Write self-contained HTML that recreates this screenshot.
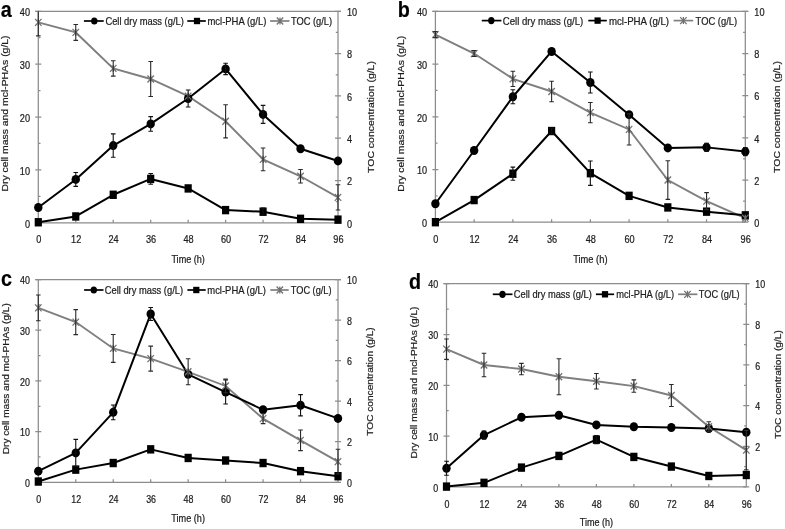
<!DOCTYPE html>
<html><head><meta charset="utf-8"><style>
html,body{margin:0;padding:0;background:#fff;}
svg{display:block;font-family:"Liberation Sans",sans-serif;will-change:transform;}
text{stroke:#222;stroke-width:0.22px;}
</style></head><body>
<svg width="785" height="529" viewBox="0 0 785 529">
<rect width="785" height="529" fill="#fff"/>
<g stroke="#8c8c8c" stroke-width="1.25" fill="none">
<path d="M35.30,11.30H341.00M38.30,11.30V222.80H338.00M338.00,11.30V222.80"/>
<path d="M35.30,222.80H41.30M38.30,196.36H40.50M35.30,169.93H41.30M38.30,143.49H40.50M35.30,117.05H41.30M38.30,90.61H40.50M35.30,64.18H41.30M38.30,37.74H40.50M35.30,11.30H41.30M335.00,222.80H341.00M335.80,201.65H338.00M335.00,180.50H341.00M335.80,159.35H338.00M335.00,138.20H341.00M335.80,117.05H338.00M335.00,95.90H341.00M335.80,74.75H338.00M335.00,53.60H341.00M335.80,32.45H338.00M335.00,11.30H341.00M75.76,222.80V219.80M113.22,222.80V219.80M150.69,222.80V219.80M188.15,222.80V219.80M225.61,222.80V219.80M263.07,222.80V219.80M300.54,222.80V219.80"/>
</g>
<text transform="translate(30.00,227.50) scale(0.88,1)" font-size="10.4" text-anchor="end" font-weight="normal" fill="#1a1a1a">0</text>
<text transform="translate(30.00,174.62) scale(0.88,1)" font-size="10.4" text-anchor="end" font-weight="normal" fill="#1a1a1a">10</text>
<text transform="translate(30.00,121.75) scale(0.88,1)" font-size="10.4" text-anchor="end" font-weight="normal" fill="#1a1a1a">20</text>
<text transform="translate(30.00,68.88) scale(0.88,1)" font-size="10.4" text-anchor="end" font-weight="normal" fill="#1a1a1a">30</text>
<text transform="translate(30.00,16.00) scale(0.88,1)" font-size="10.4" text-anchor="end" font-weight="normal" fill="#1a1a1a">40</text>
<text transform="translate(347.00,227.50) scale(0.88,1)" font-size="10.4" text-anchor="start" font-weight="normal" fill="#1a1a1a">0</text>
<text transform="translate(347.00,185.20) scale(0.88,1)" font-size="10.4" text-anchor="start" font-weight="normal" fill="#1a1a1a">2</text>
<text transform="translate(347.00,142.90) scale(0.88,1)" font-size="10.4" text-anchor="start" font-weight="normal" fill="#1a1a1a">4</text>
<text transform="translate(347.00,100.60) scale(0.88,1)" font-size="10.4" text-anchor="start" font-weight="normal" fill="#1a1a1a">6</text>
<text transform="translate(347.00,58.30) scale(0.88,1)" font-size="10.4" text-anchor="start" font-weight="normal" fill="#1a1a1a">8</text>
<text transform="translate(347.00,16.00) scale(0.88,1)" font-size="10.4" text-anchor="start" font-weight="normal" fill="#1a1a1a">10</text>
<text transform="translate(38.70,243.40) scale(0.88,1)" font-size="10.4" text-anchor="middle" font-weight="normal" fill="#1a1a1a">0</text>
<text transform="translate(76.16,243.40) scale(0.88,1)" font-size="10.4" text-anchor="middle" font-weight="normal" fill="#1a1a1a">12</text>
<text transform="translate(113.62,243.40) scale(0.88,1)" font-size="10.4" text-anchor="middle" font-weight="normal" fill="#1a1a1a">24</text>
<text transform="translate(151.09,243.40) scale(0.88,1)" font-size="10.4" text-anchor="middle" font-weight="normal" fill="#1a1a1a">36</text>
<text transform="translate(188.55,243.40) scale(0.88,1)" font-size="10.4" text-anchor="middle" font-weight="normal" fill="#1a1a1a">48</text>
<text transform="translate(226.01,243.40) scale(0.88,1)" font-size="10.4" text-anchor="middle" font-weight="normal" fill="#1a1a1a">60</text>
<text transform="translate(263.47,243.40) scale(0.88,1)" font-size="10.4" text-anchor="middle" font-weight="normal" fill="#1a1a1a">72</text>
<text transform="translate(300.94,243.40) scale(0.88,1)" font-size="10.4" text-anchor="middle" font-weight="normal" fill="#1a1a1a">84</text>
<text transform="translate(338.40,243.40) scale(0.88,1)" font-size="10.4" text-anchor="middle" font-weight="normal" fill="#1a1a1a">96</text>
<text x="188.15" y="263.10" font-size="10.4" text-anchor="middle" font-weight="normal" fill="#1a1a1a" textLength="33.50" lengthAdjust="spacingAndGlyphs">Time (h)</text>
<text transform="translate(7.80,113.50) scale(0.88,1) rotate(-90)" font-size="10.4" text-anchor="middle" fill="#1a1a1a" textLength="156.10" lengthAdjust="spacingAndGlyphs">Dry cell mass and mcl-PHAs (g/L)</text>
<text transform="translate(373.60,117.00) scale(0.88,1) rotate(-90)" font-size="10.4" text-anchor="middle" fill="#1a1a1a" textLength="111.80" lengthAdjust="spacingAndGlyphs">TOC concentration (g/L)</text>
<text transform="translate(0.80,17.30) scale(0.92,1)" font-size="21.5" font-weight="bold" fill="#000">a</text>
<path d="M83.90,21.00H103.70" stroke="#000" stroke-width="1.7"/>
<ellipse cx="94.30" cy="21.00" rx="3.2" ry="3.6" fill="#000"/>
<text x="105.40" y="25.10" font-size="10.4" text-anchor="start" font-weight="normal" fill="#1a1a1a" textLength="78.40" lengthAdjust="spacingAndGlyphs">Cell dry mass (g/L)</text>
<path d="M187.30,21.00H205.80" stroke="#000" stroke-width="1.7"/>
<rect x="193.90" y="17.80" width="6.2" height="6.4" fill="#000"/>
<text x="207.40" y="25.10" font-size="10.4" text-anchor="start" font-weight="normal" fill="#1a1a1a" textLength="59.00" lengthAdjust="spacingAndGlyphs">mcl-PHA (g/L)</text>
<path d="M270.10,21.00H289.50" stroke="#7f7f7f" stroke-width="1.7"/>
<path d="M276.78,17.50L283.22,24.50M276.78,24.50L283.22,17.50M280.00,17.50L280.00,24.50" stroke="#707070" stroke-width="1.25" fill="none"/>
<text x="290.90" y="25.10" font-size="10.4" text-anchor="start" font-weight="normal" fill="#1a1a1a" textLength="41.20" lengthAdjust="spacingAndGlyphs">TOC (g/L)</text>
<polyline points="38.30,22.30 75.76,32.45 113.22,68.41 150.69,78.98 188.15,96.11 225.61,121.28 263.07,159.35 300.54,176.27 338.00,197.42" stroke="#7f7f7f" stroke-width="1.9" fill="none"/>
<polyline points="38.30,222.27 75.76,216.46 113.22,194.78 150.69,178.91 188.15,188.43 225.61,210.11 263.07,211.70 300.54,218.83 338.00,219.63" stroke="#000" stroke-width="2.0" fill="none" stroke-linejoin="round"/>
<polyline points="38.30,207.47 75.76,179.44 113.22,145.60 150.69,123.92 188.15,98.54 225.61,68.93 263.07,114.41 300.54,148.78 338.00,160.94" stroke="#000" stroke-width="2.0" fill="none" stroke-linejoin="round"/>
<rect x="34.70" y="218.07" width="7.2" height="8.4" fill="#000"/>
<rect x="72.16" y="212.26" width="7.2" height="8.4" fill="#000"/>
<rect x="109.62" y="190.58" width="7.2" height="8.4" fill="#000"/>
<rect x="147.09" y="174.71" width="7.2" height="8.4" fill="#000"/>
<rect x="184.55" y="184.23" width="7.2" height="8.4" fill="#000"/>
<rect x="222.01" y="205.91" width="7.2" height="8.4" fill="#000"/>
<rect x="259.47" y="207.50" width="7.2" height="8.4" fill="#000"/>
<rect x="296.94" y="214.63" width="7.2" height="8.4" fill="#000"/>
<rect x="334.40" y="215.43" width="7.2" height="8.4" fill="#000"/>
<ellipse cx="38.30" cy="207.47" rx="4.2" ry="4.5" fill="#000"/>
<ellipse cx="75.76" cy="179.44" rx="4.2" ry="4.5" fill="#000"/>
<ellipse cx="113.22" cy="145.60" rx="4.2" ry="4.5" fill="#000"/>
<ellipse cx="150.69" cy="123.92" rx="4.2" ry="4.5" fill="#000"/>
<ellipse cx="188.15" cy="98.54" rx="4.2" ry="4.5" fill="#000"/>
<ellipse cx="225.61" cy="68.93" rx="4.2" ry="4.5" fill="#000"/>
<ellipse cx="263.07" cy="114.41" rx="4.2" ry="4.5" fill="#000"/>
<ellipse cx="300.54" cy="148.78" rx="4.2" ry="4.5" fill="#000"/>
<ellipse cx="338.00" cy="160.94" rx="4.2" ry="4.5" fill="#000"/>
<path d="M35.08,18.80L41.52,25.80M35.08,25.80L41.52,18.80M38.30,18.80L38.30,25.80" stroke="#707070" stroke-width="1.25" fill="none"/>
<path d="M72.54,28.95L78.98,35.95M72.54,35.95L78.98,28.95M75.76,28.95L75.76,35.95" stroke="#707070" stroke-width="1.25" fill="none"/>
<path d="M110.00,64.91L116.44,71.91M110.00,71.91L116.44,64.91M113.22,64.91L113.22,71.91" stroke="#707070" stroke-width="1.25" fill="none"/>
<path d="M147.47,75.48L153.91,82.48M147.47,82.48L153.91,75.48M150.69,75.48L150.69,82.48" stroke="#707070" stroke-width="1.25" fill="none"/>
<path d="M184.93,92.61L191.37,99.61M184.93,99.61L191.37,92.61M188.15,92.61L188.15,99.61" stroke="#707070" stroke-width="1.25" fill="none"/>
<path d="M222.39,117.78L228.83,124.78M222.39,124.78L228.83,117.78M225.61,117.78L225.61,124.78" stroke="#707070" stroke-width="1.25" fill="none"/>
<path d="M259.85,155.85L266.30,162.85M259.85,162.85L266.30,155.85M263.07,155.85L263.07,162.85" stroke="#707070" stroke-width="1.25" fill="none"/>
<path d="M297.32,172.77L303.76,179.77M297.32,179.77L303.76,172.77M300.54,172.77L300.54,179.77" stroke="#707070" stroke-width="1.25" fill="none"/>
<path d="M334.78,193.92L341.22,200.92M334.78,200.92L341.22,193.92M338.00,193.92L338.00,200.92" stroke="#707070" stroke-width="1.25" fill="none"/>
<path d="M75.76,172.54V186.34M73.46,186.34H78.06M73.46,172.54H78.06M113.22,133.90V157.30M110.92,157.30H115.52M110.92,133.90H115.52M150.69,116.62V131.22M148.39,131.22H152.99M148.39,116.62H152.99M188.15,90.04V107.04M185.85,107.04H190.45M185.85,90.04H190.45M225.61,63.23V74.63M223.31,74.63H227.91M223.31,63.23H227.91M263.07,105.41V123.41M260.77,123.41H265.38M260.77,105.41H265.38M150.69,173.51V184.31M148.39,184.31H152.99M148.39,173.51H152.99M263.07,208.00V215.40M260.77,215.40H265.38M260.77,208.00H265.38" stroke="#111" stroke-width="1.1" fill="none"/>
<path d="M38.30,11.30V35.90M36.00,35.90H40.60M75.76,24.55V40.35M73.46,40.35H78.06M73.46,24.55H78.06M113.22,60.71V76.11M110.92,76.11H115.52M110.92,60.71H115.52M150.69,61.48V96.48M148.39,96.48H152.99M148.39,61.48H152.99M225.61,104.68V137.88M223.31,137.88H227.91M223.31,104.68H227.91M263.07,147.95V170.75M260.77,170.75H265.38M260.77,147.95H265.38M300.54,169.57V182.97M298.24,182.97H302.84M298.24,169.57H302.84M338.00,184.82V210.02M335.70,210.02H340.30M335.70,184.82H340.30" stroke="#2a2a2a" stroke-width="1.1" fill="none"/>
<g stroke="#8c8c8c" stroke-width="1.25" fill="none">
<path d="M432.40,11.40H748.30M435.40,11.40V222.20H745.30M745.30,11.40V222.20"/>
<path d="M432.40,222.20H438.40M435.40,195.85H437.60M432.40,169.50H438.40M435.40,143.15H437.60M432.40,116.80H438.40M435.40,90.45H437.60M432.40,64.10H438.40M435.40,37.75H437.60M432.40,11.40H438.40M742.30,222.20H748.30M743.10,201.12H745.30M742.30,180.04H748.30M743.10,158.96H745.30M742.30,137.88H748.30M743.10,116.80H745.30M742.30,95.72H748.30M743.10,74.64H745.30M742.30,53.56H748.30M743.10,32.48H745.30M742.30,11.40H748.30M474.14,222.20V219.20M512.88,222.20V219.20M551.61,222.20V219.20M590.35,222.20V219.20M629.09,222.20V219.20M667.82,222.20V219.20M706.56,222.20V219.20"/>
</g>
<text transform="translate(427.10,226.90) scale(0.88,1)" font-size="10.4" text-anchor="end" font-weight="normal" fill="#1a1a1a">0</text>
<text transform="translate(427.10,174.20) scale(0.88,1)" font-size="10.4" text-anchor="end" font-weight="normal" fill="#1a1a1a">10</text>
<text transform="translate(427.10,121.50) scale(0.88,1)" font-size="10.4" text-anchor="end" font-weight="normal" fill="#1a1a1a">20</text>
<text transform="translate(427.10,68.80) scale(0.88,1)" font-size="10.4" text-anchor="end" font-weight="normal" fill="#1a1a1a">30</text>
<text transform="translate(427.10,16.10) scale(0.88,1)" font-size="10.4" text-anchor="end" font-weight="normal" fill="#1a1a1a">40</text>
<text transform="translate(754.30,226.90) scale(0.88,1)" font-size="10.4" text-anchor="start" font-weight="normal" fill="#1a1a1a">0</text>
<text transform="translate(754.30,184.74) scale(0.88,1)" font-size="10.4" text-anchor="start" font-weight="normal" fill="#1a1a1a">2</text>
<text transform="translate(754.30,142.58) scale(0.88,1)" font-size="10.4" text-anchor="start" font-weight="normal" fill="#1a1a1a">4</text>
<text transform="translate(754.30,100.42) scale(0.88,1)" font-size="10.4" text-anchor="start" font-weight="normal" fill="#1a1a1a">6</text>
<text transform="translate(754.30,58.26) scale(0.88,1)" font-size="10.4" text-anchor="start" font-weight="normal" fill="#1a1a1a">8</text>
<text transform="translate(754.30,16.10) scale(0.88,1)" font-size="10.4" text-anchor="start" font-weight="normal" fill="#1a1a1a">10</text>
<text transform="translate(435.80,242.80) scale(0.88,1)" font-size="10.4" text-anchor="middle" font-weight="normal" fill="#1a1a1a">0</text>
<text transform="translate(474.54,242.80) scale(0.88,1)" font-size="10.4" text-anchor="middle" font-weight="normal" fill="#1a1a1a">12</text>
<text transform="translate(513.27,242.80) scale(0.88,1)" font-size="10.4" text-anchor="middle" font-weight="normal" fill="#1a1a1a">24</text>
<text transform="translate(552.01,242.80) scale(0.88,1)" font-size="10.4" text-anchor="middle" font-weight="normal" fill="#1a1a1a">36</text>
<text transform="translate(590.75,242.80) scale(0.88,1)" font-size="10.4" text-anchor="middle" font-weight="normal" fill="#1a1a1a">48</text>
<text transform="translate(629.49,242.80) scale(0.88,1)" font-size="10.4" text-anchor="middle" font-weight="normal" fill="#1a1a1a">60</text>
<text transform="translate(668.22,242.80) scale(0.88,1)" font-size="10.4" text-anchor="middle" font-weight="normal" fill="#1a1a1a">72</text>
<text transform="translate(706.96,242.80) scale(0.88,1)" font-size="10.4" text-anchor="middle" font-weight="normal" fill="#1a1a1a">84</text>
<text transform="translate(745.70,242.80) scale(0.88,1)" font-size="10.4" text-anchor="middle" font-weight="normal" fill="#1a1a1a">96</text>
<text x="590.35" y="262.90" font-size="10.4" text-anchor="middle" font-weight="normal" fill="#1a1a1a" textLength="34.30" lengthAdjust="spacingAndGlyphs">Time (h)</text>
<text transform="translate(404.30,113.80) scale(0.88,1) rotate(-90)" font-size="10.4" text-anchor="middle" fill="#1a1a1a" textLength="156.10" lengthAdjust="spacingAndGlyphs">Dry cell mass and mcl-PHAs (g/L)</text>
<text transform="translate(780.40,117.00) scale(0.88,1) rotate(-90)" font-size="10.4" text-anchor="middle" fill="#1a1a1a" textLength="111.80" lengthAdjust="spacingAndGlyphs">TOC concentration (g/L)</text>
<text transform="translate(397.80,17.30) scale(0.92,1)" font-size="21.5" font-weight="bold" fill="#000">b</text>
<path d="M481.80,20.60H501.40" stroke="#000" stroke-width="1.7"/>
<ellipse cx="491.30" cy="20.60" rx="3.2" ry="3.6" fill="#000"/>
<text x="502.80" y="24.70" font-size="10.4" text-anchor="start" font-weight="normal" fill="#1a1a1a" textLength="80.50" lengthAdjust="spacingAndGlyphs">Cell dry mass (g/L)</text>
<path d="M588.30,20.60H606.80" stroke="#000" stroke-width="1.7"/>
<rect x="594.50" y="17.40" width="6.2" height="6.4" fill="#000"/>
<text x="608.90" y="24.70" font-size="10.4" text-anchor="start" font-weight="normal" fill="#1a1a1a" textLength="60.20" lengthAdjust="spacingAndGlyphs">mcl-PHA (g/L)</text>
<path d="M673.60,20.60H693.20" stroke="#7f7f7f" stroke-width="1.7"/>
<path d="M680.18,17.10L686.62,24.10M680.18,24.10L686.62,17.10M683.40,17.10L683.40,24.10" stroke="#707070" stroke-width="1.25" fill="none"/>
<text x="695.60" y="24.70" font-size="10.4" text-anchor="start" font-weight="normal" fill="#1a1a1a" textLength="41.50" lengthAdjust="spacingAndGlyphs">TOC (g/L)</text>
<polyline points="435.40,34.59 474.14,53.56 512.88,78.86 551.61,91.50 590.35,112.58 629.09,129.45 667.82,180.04 706.56,201.12 745.30,218.19" stroke="#7f7f7f" stroke-width="1.9" fill="none"/>
<polyline points="435.40,222.20 474.14,200.07 512.88,173.72 551.61,131.03 590.35,173.19 629.09,195.85 667.82,207.44 706.56,211.66 745.30,215.35" stroke="#000" stroke-width="2.0" fill="none" stroke-linejoin="round"/>
<polyline points="435.40,203.75 474.14,150.53 512.88,96.77 551.61,51.45 590.35,82.54 629.09,114.69 667.82,147.89 706.56,147.37 745.30,151.58" stroke="#000" stroke-width="2.0" fill="none" stroke-linejoin="round"/>
<rect x="431.80" y="218.00" width="7.2" height="8.4" fill="#000"/>
<rect x="470.54" y="195.87" width="7.2" height="8.4" fill="#000"/>
<rect x="509.27" y="169.52" width="7.2" height="8.4" fill="#000"/>
<rect x="548.01" y="126.83" width="7.2" height="8.4" fill="#000"/>
<rect x="586.75" y="168.99" width="7.2" height="8.4" fill="#000"/>
<rect x="625.49" y="191.65" width="7.2" height="8.4" fill="#000"/>
<rect x="664.22" y="203.24" width="7.2" height="8.4" fill="#000"/>
<rect x="702.96" y="207.46" width="7.2" height="8.4" fill="#000"/>
<rect x="741.70" y="211.15" width="7.2" height="8.4" fill="#000"/>
<ellipse cx="435.40" cy="203.75" rx="4.2" ry="4.5" fill="#000"/>
<ellipse cx="474.14" cy="150.53" rx="4.2" ry="4.5" fill="#000"/>
<ellipse cx="512.88" cy="96.77" rx="4.2" ry="4.5" fill="#000"/>
<ellipse cx="551.61" cy="51.45" rx="4.2" ry="4.5" fill="#000"/>
<ellipse cx="590.35" cy="82.54" rx="4.2" ry="4.5" fill="#000"/>
<ellipse cx="629.09" cy="114.69" rx="4.2" ry="4.5" fill="#000"/>
<ellipse cx="667.82" cy="147.89" rx="4.2" ry="4.5" fill="#000"/>
<ellipse cx="706.56" cy="147.37" rx="4.2" ry="4.5" fill="#000"/>
<ellipse cx="745.30" cy="151.58" rx="4.2" ry="4.5" fill="#000"/>
<path d="M432.18,31.09L438.62,38.09M432.18,38.09L438.62,31.09M435.40,31.09L435.40,38.09" stroke="#707070" stroke-width="1.25" fill="none"/>
<path d="M470.92,50.06L477.36,57.06M470.92,57.06L477.36,50.06M474.14,50.06L474.14,57.06" stroke="#707070" stroke-width="1.25" fill="none"/>
<path d="M509.65,75.36L516.10,82.36M509.65,82.36L516.10,75.36M512.88,75.36L512.88,82.36" stroke="#707070" stroke-width="1.25" fill="none"/>
<path d="M548.39,88.00L554.83,95.00M548.39,95.00L554.83,88.00M551.61,88.00L551.61,95.00" stroke="#707070" stroke-width="1.25" fill="none"/>
<path d="M587.13,109.08L593.57,116.08M587.13,116.08L593.57,109.08M590.35,109.08L590.35,116.08" stroke="#707070" stroke-width="1.25" fill="none"/>
<path d="M625.87,125.95L632.31,132.95M625.87,132.95L632.31,125.95M629.09,125.95L629.09,132.95" stroke="#707070" stroke-width="1.25" fill="none"/>
<path d="M664.60,176.54L671.04,183.54M664.60,183.54L671.04,176.54M667.82,176.54L667.82,183.54" stroke="#707070" stroke-width="1.25" fill="none"/>
<path d="M703.34,197.62L709.78,204.62M703.34,204.62L709.78,197.62M706.56,197.62L706.56,204.62" stroke="#707070" stroke-width="1.25" fill="none"/>
<path d="M742.08,214.69L748.52,221.69M742.08,221.69L748.52,214.69M745.30,214.69L745.30,221.69" stroke="#707070" stroke-width="1.25" fill="none"/>
<path d="M512.88,89.77V103.77M510.57,103.77H515.17M510.57,89.77H515.17M590.35,72.04V93.04M588.05,93.04H592.65M588.05,72.04H592.65M706.56,143.37V151.37M704.26,151.37H708.86M704.26,143.37H708.86M745.30,147.58V155.58M743.00,155.58H747.60M743.00,147.58H747.60M512.88,167.12V180.32M510.57,180.32H515.17M510.57,167.12H515.17M551.61,128.03V134.03M549.31,134.03H553.91M549.31,128.03H553.91M590.35,160.99V185.39M588.05,185.39H592.65M588.05,160.99H592.65" stroke="#111" stroke-width="1.1" fill="none"/>
<path d="M435.40,31.59V37.59M433.10,37.59H437.70M433.10,31.59H437.70M474.14,50.56V56.56M471.84,56.56H476.44M471.84,50.56H476.44M512.88,71.26V86.46M510.57,86.46H515.17M510.57,71.26H515.17M551.61,81.30V101.70M549.31,101.70H553.91M549.31,81.30H553.91M590.35,102.48V122.68M588.05,122.68H592.65M588.05,102.48H592.65M629.09,113.85V145.05M626.79,145.05H631.39M626.79,113.85H631.39M667.82,160.74V199.34M665.52,199.34H670.12M665.52,160.74H670.12M706.56,192.62V209.62M704.26,209.62H708.86M704.26,192.62H708.86" stroke="#2a2a2a" stroke-width="1.1" fill="none"/>
<g stroke="#8c8c8c" stroke-width="1.25" fill="none">
<path d="M35.30,279.50H341.00M38.30,279.50V482.30H338.00M338.00,279.50V482.30"/>
<path d="M35.30,482.30H41.30M38.30,456.95H40.50M35.30,431.60H41.30M38.30,406.25H40.50M35.30,380.90H41.30M38.30,355.55H40.50M35.30,330.20H41.30M38.30,304.85H40.50M35.30,279.50H41.30M335.00,482.30H341.00M335.80,462.02H338.00M335.00,441.74H341.00M335.80,421.46H338.00M335.00,401.18H341.00M335.80,380.90H338.00M335.00,360.62H341.00M335.80,340.34H338.00M335.00,320.06H341.00M335.80,299.78H338.00M335.00,279.50H341.00M75.76,482.30V479.30M113.22,482.30V479.30M150.69,482.30V479.30M188.15,482.30V479.30M225.61,482.30V479.30M263.07,482.30V479.30M300.54,482.30V479.30"/>
</g>
<text transform="translate(30.00,487.00) scale(0.88,1)" font-size="10.1" text-anchor="end" font-weight="normal" fill="#1a1a1a">0</text>
<text transform="translate(30.00,436.30) scale(0.88,1)" font-size="10.1" text-anchor="end" font-weight="normal" fill="#1a1a1a">10</text>
<text transform="translate(30.00,385.60) scale(0.88,1)" font-size="10.1" text-anchor="end" font-weight="normal" fill="#1a1a1a">20</text>
<text transform="translate(30.00,334.90) scale(0.88,1)" font-size="10.1" text-anchor="end" font-weight="normal" fill="#1a1a1a">30</text>
<text transform="translate(30.00,284.20) scale(0.88,1)" font-size="10.1" text-anchor="end" font-weight="normal" fill="#1a1a1a">40</text>
<text transform="translate(347.00,487.00) scale(0.88,1)" font-size="10.1" text-anchor="start" font-weight="normal" fill="#1a1a1a">0</text>
<text transform="translate(347.00,446.44) scale(0.88,1)" font-size="10.1" text-anchor="start" font-weight="normal" fill="#1a1a1a">2</text>
<text transform="translate(347.00,405.88) scale(0.88,1)" font-size="10.1" text-anchor="start" font-weight="normal" fill="#1a1a1a">4</text>
<text transform="translate(347.00,365.32) scale(0.88,1)" font-size="10.1" text-anchor="start" font-weight="normal" fill="#1a1a1a">6</text>
<text transform="translate(347.00,324.76) scale(0.88,1)" font-size="10.1" text-anchor="start" font-weight="normal" fill="#1a1a1a">8</text>
<text transform="translate(347.00,284.20) scale(0.88,1)" font-size="10.1" text-anchor="start" font-weight="normal" fill="#1a1a1a">10</text>
<text transform="translate(38.70,502.90) scale(0.88,1)" font-size="10.1" text-anchor="middle" font-weight="normal" fill="#1a1a1a">0</text>
<text transform="translate(76.16,502.90) scale(0.88,1)" font-size="10.1" text-anchor="middle" font-weight="normal" fill="#1a1a1a">12</text>
<text transform="translate(113.62,502.90) scale(0.88,1)" font-size="10.1" text-anchor="middle" font-weight="normal" fill="#1a1a1a">24</text>
<text transform="translate(151.09,502.90) scale(0.88,1)" font-size="10.1" text-anchor="middle" font-weight="normal" fill="#1a1a1a">36</text>
<text transform="translate(188.55,502.90) scale(0.88,1)" font-size="10.1" text-anchor="middle" font-weight="normal" fill="#1a1a1a">48</text>
<text transform="translate(226.01,502.90) scale(0.88,1)" font-size="10.1" text-anchor="middle" font-weight="normal" fill="#1a1a1a">60</text>
<text transform="translate(263.47,502.90) scale(0.88,1)" font-size="10.1" text-anchor="middle" font-weight="normal" fill="#1a1a1a">72</text>
<text transform="translate(300.94,502.90) scale(0.88,1)" font-size="10.1" text-anchor="middle" font-weight="normal" fill="#1a1a1a">84</text>
<text transform="translate(338.40,502.90) scale(0.88,1)" font-size="10.1" text-anchor="middle" font-weight="normal" fill="#1a1a1a">96</text>
<text x="188.15" y="521.70" font-size="10.1" text-anchor="middle" font-weight="normal" fill="#1a1a1a" textLength="33.60" lengthAdjust="spacingAndGlyphs">Time (h)</text>
<text transform="translate(8.60,378.70) scale(0.88,1) rotate(-90)" font-size="10.1" text-anchor="middle" fill="#1a1a1a" textLength="151.00" lengthAdjust="spacingAndGlyphs">Dry cell mass and mcl-PHAs (g/L)</text>
<text transform="translate(373.40,381.50) scale(0.88,1) rotate(-90)" font-size="10.1" text-anchor="middle" fill="#1a1a1a" textLength="108.40" lengthAdjust="spacingAndGlyphs">TOC concentration (g/L)</text>
<text transform="translate(0.90,286.00) scale(0.92,1)" font-size="21.5" font-weight="bold" fill="#000">c</text>
<path d="M84.10,290.00H103.50" stroke="#000" stroke-width="1.7"/>
<ellipse cx="93.80" cy="290.00" rx="3.2" ry="3.6" fill="#000"/>
<text x="104.70" y="294.10" font-size="10.1" text-anchor="start" font-weight="normal" fill="#1a1a1a" textLength="78.40" lengthAdjust="spacingAndGlyphs">Cell dry mass (g/L)</text>
<path d="M187.40,290.00H205.70" stroke="#000" stroke-width="1.7"/>
<rect x="193.20" y="286.80" width="6.2" height="6.4" fill="#000"/>
<text x="207.30" y="294.10" font-size="10.1" text-anchor="start" font-weight="normal" fill="#1a1a1a" textLength="58.70" lengthAdjust="spacingAndGlyphs">mcl-PHA (g/L)</text>
<path d="M270.30,290.00H288.70" stroke="#7f7f7f" stroke-width="1.7"/>
<path d="M276.58,286.50L283.02,293.50M276.58,293.50L283.02,286.50M279.80,286.50L279.80,293.50" stroke="#707070" stroke-width="1.25" fill="none"/>
<text x="290.80" y="294.10" font-size="10.1" text-anchor="start" font-weight="normal" fill="#1a1a1a" textLength="40.70" lengthAdjust="spacingAndGlyphs">TOC (g/L)</text>
<polyline points="38.30,307.89 75.76,322.09 113.22,348.45 150.69,358.59 188.15,371.77 225.61,385.97 263.07,418.62 300.54,440.32 338.00,461.61" stroke="#7f7f7f" stroke-width="1.9" fill="none"/>
<polyline points="38.30,481.54 75.76,469.62 113.22,463.03 150.69,449.35 188.15,457.96 225.61,460.50 263.07,463.03 300.54,471.15 338.00,476.22" stroke="#000" stroke-width="2.0" fill="none" stroke-linejoin="round"/>
<polyline points="38.30,471.15 75.76,452.89 113.22,412.33 150.69,313.98 188.15,374.31 225.61,392.05 263.07,409.80 300.54,405.24 338.00,418.42" stroke="#000" stroke-width="2.0" fill="none" stroke-linejoin="round"/>
<rect x="34.70" y="477.34" width="7.2" height="8.4" fill="#000"/>
<rect x="72.16" y="465.43" width="7.2" height="8.4" fill="#000"/>
<rect x="109.62" y="458.83" width="7.2" height="8.4" fill="#000"/>
<rect x="147.09" y="445.15" width="7.2" height="8.4" fill="#000"/>
<rect x="184.55" y="453.76" width="7.2" height="8.4" fill="#000"/>
<rect x="222.01" y="456.30" width="7.2" height="8.4" fill="#000"/>
<rect x="259.47" y="458.83" width="7.2" height="8.4" fill="#000"/>
<rect x="296.94" y="466.95" width="7.2" height="8.4" fill="#000"/>
<rect x="334.40" y="472.02" width="7.2" height="8.4" fill="#000"/>
<ellipse cx="38.30" cy="471.15" rx="4.2" ry="4.5" fill="#000"/>
<ellipse cx="75.76" cy="452.89" rx="4.2" ry="4.5" fill="#000"/>
<ellipse cx="113.22" cy="412.33" rx="4.2" ry="4.5" fill="#000"/>
<ellipse cx="150.69" cy="313.98" rx="4.2" ry="4.5" fill="#000"/>
<ellipse cx="188.15" cy="374.31" rx="4.2" ry="4.5" fill="#000"/>
<ellipse cx="225.61" cy="392.05" rx="4.2" ry="4.5" fill="#000"/>
<ellipse cx="263.07" cy="409.80" rx="4.2" ry="4.5" fill="#000"/>
<ellipse cx="300.54" cy="405.24" rx="4.2" ry="4.5" fill="#000"/>
<ellipse cx="338.00" cy="418.42" rx="4.2" ry="4.5" fill="#000"/>
<path d="M35.08,304.39L41.52,311.39M35.08,311.39L41.52,304.39M38.30,304.39L38.30,311.39" stroke="#707070" stroke-width="1.25" fill="none"/>
<path d="M72.54,318.59L78.98,325.59M72.54,325.59L78.98,318.59M75.76,318.59L75.76,325.59" stroke="#707070" stroke-width="1.25" fill="none"/>
<path d="M110.00,344.95L116.44,351.95M110.00,351.95L116.44,344.95M113.22,344.95L113.22,351.95" stroke="#707070" stroke-width="1.25" fill="none"/>
<path d="M147.47,355.09L153.91,362.09M147.47,362.09L153.91,355.09M150.69,355.09L150.69,362.09" stroke="#707070" stroke-width="1.25" fill="none"/>
<path d="M184.93,368.27L191.37,375.27M184.93,375.27L191.37,368.27M188.15,368.27L188.15,375.27" stroke="#707070" stroke-width="1.25" fill="none"/>
<path d="M222.39,382.47L228.83,389.47M222.39,389.47L228.83,382.47M225.61,382.47L225.61,389.47" stroke="#707070" stroke-width="1.25" fill="none"/>
<path d="M259.85,415.12L266.30,422.12M259.85,422.12L266.30,415.12M263.07,415.12L263.07,422.12" stroke="#707070" stroke-width="1.25" fill="none"/>
<path d="M297.32,436.82L303.76,443.82M297.32,443.82L303.76,436.82M300.54,436.82L300.54,443.82" stroke="#707070" stroke-width="1.25" fill="none"/>
<path d="M334.78,458.11L341.22,465.11M334.78,465.11L341.22,458.11M338.00,458.11L338.00,465.11" stroke="#707070" stroke-width="1.25" fill="none"/>
<path d="M75.76,439.39V466.39M73.46,466.39H78.06M73.46,439.39H78.06M113.22,404.93V419.73M110.92,419.73H115.52M110.92,404.93H115.52M150.69,307.48V320.48M148.39,320.48H152.99M148.39,307.48H152.99M225.61,380.05V404.05M223.31,404.05H227.91M223.31,380.05H227.91M300.54,394.64V415.84M298.24,415.84H302.84M298.24,394.64H302.84" stroke="#111" stroke-width="1.1" fill="none"/>
<path d="M38.30,294.99V320.79M36.00,320.79H40.60M36.00,294.99H40.60M75.76,309.59V334.59M73.46,334.59H78.06M73.46,309.59H78.06M113.22,334.55V362.35M110.92,362.35H115.52M110.92,334.55H115.52M150.69,346.09V371.09M148.39,371.09H152.99M148.39,346.09H152.99M188.15,358.77V384.77M185.85,384.77H190.45M185.85,358.77H190.45M225.61,379.17V392.77M223.31,392.77H227.91M223.31,379.17H227.91M263.07,413.62V423.62M260.77,423.62H265.38M260.77,413.62H265.38M300.54,430.02V450.62M298.24,450.62H302.84M298.24,430.02H302.84M338.00,449.21V474.01M335.70,474.01H340.30M335.70,449.21H340.30" stroke="#2a2a2a" stroke-width="1.1" fill="none"/>
<g stroke="#8c8c8c" stroke-width="1.25" fill="none">
<path d="M443.50,283.70H749.30M446.50,283.70V486.90H746.30M746.30,283.70V486.90"/>
<path d="M443.50,486.90H449.50M446.50,461.50H448.70M443.50,436.10H449.50M446.50,410.70H448.70M443.50,385.30H449.50M446.50,359.90H448.70M443.50,334.50H449.50M446.50,309.10H448.70M443.50,283.70H449.50M743.30,486.90H749.30M744.10,466.58H746.30M743.30,446.26H749.30M744.10,425.94H746.30M743.30,405.62H749.30M744.10,385.30H746.30M743.30,364.98H749.30M744.10,344.66H746.30M743.30,324.34H749.30M744.10,304.02H746.30M743.30,283.70H749.30M483.98,486.90V483.90M521.45,486.90V483.90M558.92,486.90V483.90M596.40,486.90V483.90M633.88,486.90V483.90M671.35,486.90V483.90M708.82,486.90V483.90"/>
</g>
<text transform="translate(438.20,491.60) scale(0.88,1)" font-size="10.1" text-anchor="end" font-weight="normal" fill="#1a1a1a">0</text>
<text transform="translate(438.20,440.80) scale(0.88,1)" font-size="10.1" text-anchor="end" font-weight="normal" fill="#1a1a1a">10</text>
<text transform="translate(438.20,390.00) scale(0.88,1)" font-size="10.1" text-anchor="end" font-weight="normal" fill="#1a1a1a">20</text>
<text transform="translate(438.20,339.20) scale(0.88,1)" font-size="10.1" text-anchor="end" font-weight="normal" fill="#1a1a1a">30</text>
<text transform="translate(438.20,288.40) scale(0.88,1)" font-size="10.1" text-anchor="end" font-weight="normal" fill="#1a1a1a">40</text>
<text transform="translate(755.30,491.60) scale(0.88,1)" font-size="10.1" text-anchor="start" font-weight="normal" fill="#1a1a1a">0</text>
<text transform="translate(755.30,450.96) scale(0.88,1)" font-size="10.1" text-anchor="start" font-weight="normal" fill="#1a1a1a">2</text>
<text transform="translate(755.30,410.32) scale(0.88,1)" font-size="10.1" text-anchor="start" font-weight="normal" fill="#1a1a1a">4</text>
<text transform="translate(755.30,369.68) scale(0.88,1)" font-size="10.1" text-anchor="start" font-weight="normal" fill="#1a1a1a">6</text>
<text transform="translate(755.30,329.04) scale(0.88,1)" font-size="10.1" text-anchor="start" font-weight="normal" fill="#1a1a1a">8</text>
<text transform="translate(755.30,288.40) scale(0.88,1)" font-size="10.1" text-anchor="start" font-weight="normal" fill="#1a1a1a">10</text>
<text transform="translate(446.90,507.50) scale(0.88,1)" font-size="10.1" text-anchor="middle" font-weight="normal" fill="#1a1a1a">0</text>
<text transform="translate(484.38,507.50) scale(0.88,1)" font-size="10.1" text-anchor="middle" font-weight="normal" fill="#1a1a1a">12</text>
<text transform="translate(521.85,507.50) scale(0.88,1)" font-size="10.1" text-anchor="middle" font-weight="normal" fill="#1a1a1a">24</text>
<text transform="translate(559.32,507.50) scale(0.88,1)" font-size="10.1" text-anchor="middle" font-weight="normal" fill="#1a1a1a">36</text>
<text transform="translate(596.80,507.50) scale(0.88,1)" font-size="10.1" text-anchor="middle" font-weight="normal" fill="#1a1a1a">48</text>
<text transform="translate(634.27,507.50) scale(0.88,1)" font-size="10.1" text-anchor="middle" font-weight="normal" fill="#1a1a1a">60</text>
<text transform="translate(671.75,507.50) scale(0.88,1)" font-size="10.1" text-anchor="middle" font-weight="normal" fill="#1a1a1a">72</text>
<text transform="translate(709.22,507.50) scale(0.88,1)" font-size="10.1" text-anchor="middle" font-weight="normal" fill="#1a1a1a">84</text>
<text transform="translate(746.70,507.50) scale(0.88,1)" font-size="10.1" text-anchor="middle" font-weight="normal" fill="#1a1a1a">96</text>
<text x="596.40" y="525.90" font-size="10.1" text-anchor="middle" font-weight="normal" fill="#1a1a1a" textLength="33.40" lengthAdjust="spacingAndGlyphs">Time (h)</text>
<text transform="translate(416.60,382.50) scale(0.88,1) rotate(-90)" font-size="10.1" text-anchor="middle" fill="#1a1a1a" textLength="151.80" lengthAdjust="spacingAndGlyphs">Dry cell mass and mcl-PHAs (g/L)</text>
<text transform="translate(780.60,384.50) scale(0.88,1) rotate(-90)" font-size="10.1" text-anchor="middle" fill="#1a1a1a" textLength="108.60" lengthAdjust="spacingAndGlyphs">TOC concentration (g/L)</text>
<text transform="translate(409.00,288.50) scale(0.92,1)" font-size="21.5" font-weight="bold" fill="#000">d</text>
<path d="M492.80,294.30H512.50" stroke="#000" stroke-width="1.7"/>
<ellipse cx="502.50" cy="294.30" rx="3.2" ry="3.6" fill="#000"/>
<text x="513.80" y="298.40" font-size="10.1" text-anchor="start" font-weight="normal" fill="#1a1a1a" textLength="78.10" lengthAdjust="spacingAndGlyphs">Cell dry mass (g/L)</text>
<path d="M595.90,294.30H614.10" stroke="#000" stroke-width="1.7"/>
<rect x="601.90" y="291.10" width="6.2" height="6.4" fill="#000"/>
<text x="616.20" y="298.40" font-size="10.1" text-anchor="start" font-weight="normal" fill="#1a1a1a" textLength="57.80" lengthAdjust="spacingAndGlyphs">mcl-PHA (g/L)</text>
<path d="M678.10,294.30H697.40" stroke="#7f7f7f" stroke-width="1.7"/>
<path d="M684.28,290.80L690.72,297.80M684.28,297.80L690.72,290.80M687.50,290.80L687.50,297.80" stroke="#707070" stroke-width="1.25" fill="none"/>
<text x="698.80" y="298.40" font-size="10.1" text-anchor="start" font-weight="normal" fill="#1a1a1a" textLength="40.90" lengthAdjust="spacingAndGlyphs">TOC (g/L)</text>
<polyline points="446.50,349.13 483.98,364.98 521.45,369.04 558.92,376.77 596.40,381.24 633.88,386.11 671.35,395.46 708.82,426.75 746.30,450.12" stroke="#7f7f7f" stroke-width="1.9" fill="none"/>
<polyline points="446.50,486.60 483.98,482.84 521.45,467.60 558.92,455.91 596.40,439.66 633.88,456.93 671.35,466.58 708.82,475.98 746.30,474.96" stroke="#000" stroke-width="2.0" fill="none" stroke-linejoin="round"/>
<polyline points="446.50,468.31 483.98,435.08 521.45,417.30 558.92,415.27 596.40,424.92 633.88,426.70 671.35,427.46 708.82,428.48 746.30,432.29" stroke="#000" stroke-width="2.0" fill="none" stroke-linejoin="round"/>
<rect x="442.90" y="482.40" width="7.2" height="8.4" fill="#000"/>
<rect x="480.38" y="478.64" width="7.2" height="8.4" fill="#000"/>
<rect x="517.85" y="463.40" width="7.2" height="8.4" fill="#000"/>
<rect x="555.32" y="451.71" width="7.2" height="8.4" fill="#000"/>
<rect x="592.80" y="435.46" width="7.2" height="8.4" fill="#000"/>
<rect x="630.27" y="452.73" width="7.2" height="8.4" fill="#000"/>
<rect x="667.75" y="462.38" width="7.2" height="8.4" fill="#000"/>
<rect x="705.22" y="471.78" width="7.2" height="8.4" fill="#000"/>
<rect x="742.70" y="470.76" width="7.2" height="8.4" fill="#000"/>
<ellipse cx="446.50" cy="468.31" rx="4.2" ry="4.5" fill="#000"/>
<ellipse cx="483.98" cy="435.08" rx="4.2" ry="4.5" fill="#000"/>
<ellipse cx="521.45" cy="417.30" rx="4.2" ry="4.5" fill="#000"/>
<ellipse cx="558.92" cy="415.27" rx="4.2" ry="4.5" fill="#000"/>
<ellipse cx="596.40" cy="424.92" rx="4.2" ry="4.5" fill="#000"/>
<ellipse cx="633.88" cy="426.70" rx="4.2" ry="4.5" fill="#000"/>
<ellipse cx="671.35" cy="427.46" rx="4.2" ry="4.5" fill="#000"/>
<ellipse cx="708.82" cy="428.48" rx="4.2" ry="4.5" fill="#000"/>
<ellipse cx="746.30" cy="432.29" rx="4.2" ry="4.5" fill="#000"/>
<path d="M443.28,345.63L449.72,352.63M443.28,352.63L449.72,345.63M446.50,345.63L446.50,352.63" stroke="#707070" stroke-width="1.25" fill="none"/>
<path d="M480.75,361.48L487.20,368.48M480.75,368.48L487.20,361.48M483.98,361.48L483.98,368.48" stroke="#707070" stroke-width="1.25" fill="none"/>
<path d="M518.23,365.54L524.67,372.54M518.23,372.54L524.67,365.54M521.45,365.54L521.45,372.54" stroke="#707070" stroke-width="1.25" fill="none"/>
<path d="M555.70,373.27L562.14,380.27M555.70,380.27L562.14,373.27M558.92,373.27L558.92,380.27" stroke="#707070" stroke-width="1.25" fill="none"/>
<path d="M593.18,377.74L599.62,384.74M593.18,384.74L599.62,377.74M596.40,377.74L596.40,384.74" stroke="#707070" stroke-width="1.25" fill="none"/>
<path d="M630.65,382.61L637.10,389.61M630.65,389.61L637.10,382.61M633.88,382.61L633.88,389.61" stroke="#707070" stroke-width="1.25" fill="none"/>
<path d="M668.13,391.96L674.57,398.96M668.13,398.96L674.57,391.96M671.35,391.96L671.35,398.96" stroke="#707070" stroke-width="1.25" fill="none"/>
<path d="M705.60,423.25L712.04,430.25M705.60,430.25L712.04,423.25M708.82,423.25L708.82,430.25" stroke="#707070" stroke-width="1.25" fill="none"/>
<path d="M743.08,446.62L749.52,453.62M743.08,453.62L749.52,446.62M746.30,446.62L746.30,453.62" stroke="#707070" stroke-width="1.25" fill="none"/>
<path d="M446.50,461.31V475.31M444.20,475.31H448.80M444.20,461.31H448.80M483.98,431.08V439.08M481.68,439.08H486.28M481.68,431.08H486.28M596.40,435.66V443.66M594.10,443.66H598.70M594.10,435.66H598.70" stroke="#111" stroke-width="1.1" fill="none"/>
<path d="M446.50,338.93V359.33M444.20,359.33H448.80M444.20,338.93H448.80M483.98,353.18V376.78M481.68,376.78H486.28M481.68,353.18H486.28M521.45,363.34V374.74M519.15,374.74H523.75M519.15,363.34H523.75M558.92,358.77V394.77M556.62,394.77H561.22M556.62,358.77H561.22M596.40,373.44V389.04M594.10,389.04H598.70M594.10,373.44H598.70M633.88,379.91V392.31M631.58,392.31H636.17M631.58,379.91H636.17M671.35,384.46V406.46M669.05,406.46H673.65M669.05,384.46H673.65M708.82,421.75V431.75M706.52,431.75H711.12M706.52,421.75H711.12M746.30,430.52V469.72M744.00,469.72H748.60M744.00,430.52H748.60" stroke="#2a2a2a" stroke-width="1.1" fill="none"/>
</svg>
</body></html>
